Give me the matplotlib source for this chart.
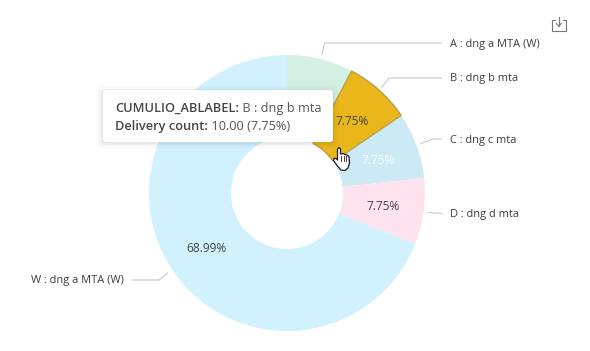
import matplotlib
matplotlib.use('AGG')
import matplotlib.pyplot as plt
from matplotlib.patches import FancyBboxPatch, Polygon

plt.rcParams['font.family'] = ['Open Sans', 'DejaVu Sans']

categories = ['A : dng a MTA (W)', 'B : dng b mta', 'C : dng c mta', 'D : dng d mta', 'W : dng a MTA (W)']
delivery_count = [10, 10, 10, 10, 89]
slice_colors = ['#d3f0e2', '#e9b71a', '#cce9f6', '#fee3ef', '#d1f1ff']
pct_colors = ['#444444', '#444444', '#ffffff', '#444444', '#444444']

# leader lines in pixels, slice end -> elbow -> label end
leaders = [
    [(322, 54), (324.5, 43), (441.5, 43)],
    [(382, 87), (389, 78), (441.5, 78)],
    [(421, 143.5), (433, 139), (441.5, 139)],
    [(428, 212), (433, 213), (441.5, 213.5)],
    [(167.5, 273), (159, 280), (132.5, 280)],
]
label_pos = [(450, 44), (450, 79), (450, 141), (450, 215), (31, 281)]

fig = plt.figure(figsize=(5.9, 3.51), dpi=100)
ax = fig.add_axes([0, 0, 1, 1])

# y axis is flipped below so everything is in image pixels,
# that is why the start angle is -90 and counterclock is True
wedges, _, pcts = ax.pie(delivery_count, colors=slice_colors, center=(287, 193), radius=138,
                         startangle=-90, counterclock=True, autopct='%.2f%%', pctdistance=0.703,
                         wedgeprops={'width': 82, 'linewidth': 0},
                         textprops={'fontsize': 8.6})
ax.set_xlim(0, 590)
ax.set_ylim(351, 0)
ax.set_aspect('auto')

for t, c in zip(pcts, pct_colors):
    t.set_color(c)
    t.set_zorder(4)
    t.set_y(t.get_position()[1] + 1)

# label of slice A sits behind the tooltip in the picture
pcts[0].remove()

wedges[1].set_edgecolor('#b9a046')
wedges[1].set_linewidth(1.0)
wedges[1].set_zorder(3)

for line in leaders:
    xs, ys = zip(*line)
    ax.plot(xs, ys, color='#c9c9c9', lw=0.8, zorder=2)

for name, (x, y) in zip(categories, label_pos):
    ax.text(x, y, name, fontsize=7.9, color='#3c3c3c', va='center', ha='left')

# tooltip, shadow is a few see through boxes
for grow, alpha in [(7, 0.012), (5, 0.02), (3, 0.03), (1.5, 0.04)]:
    ax.add_patch(FancyBboxPatch((103 - grow, 91 - grow + 1), 229 + 2 * grow, 50 + 2 * grow,
                                boxstyle='round,pad=0,rounding_size=4', fc='black', ec='none',
                                alpha=alpha, zorder=5))
ax.add_patch(FancyBboxPatch((103, 90), 230, 52, boxstyle='round,pad=0,rounding_size=3',
                            fc='white', ec='none', zorder=6))

bold1 = ax.text(115, 108.5, 'CUMULIO_ABLABEL:', fontsize=9.2, fontweight='semibold',
                color='#444444', va='center', zorder=7)
ax.annotate(' B : dng b mta', xy=(1, 0.5), xycoords=bold1, va='center', fontsize=9.2,
            color='#555555', zorder=7)
bold2 = ax.text(115, 126.5, 'Delivery count:', fontsize=9.2, fontweight='semibold',
                color='#444444', va='center', zorder=7)
ax.annotate(' 10.00 (7.75%)', xy=(1, 0.5), xycoords=bold2, va='center', fontsize=9.2,
            color='#555555', zorder=7)

# hand cursor
hand = [(337.5, 149), (339, 147.5), (340.5, 149), (340.5, 154), (343, 153.5), (345, 154.5),
        (347, 155), (349, 156.5), (349.5, 163), (348, 168), (345, 170.5), (341, 170),
        (337.5, 166), (333.5, 160.5), (334, 158.5), (336, 158.5), (337.5, 160)]
ax.add_patch(Polygon(hand, closed=True, fc='white', ec='#1c1c2a', lw=0.9, joinstyle='round', zorder=8))
for x0 in [341, 343.5, 346]:
    ax.plot([x0, x0], [155.5, 161], color='#1c1c2a', lw=0.6, zorder=9)

# download icon
ax.plot([554.5, 551.7, 551.7, 565.7, 565.7, 562.5], [20, 20, 30.7, 30.7, 20, 20],
        color='#777777', lw=0.8)
ax.plot([558.7, 558.7], [17, 26], color='#777777', lw=0.8)
ax.plot([556.2, 558.7, 561.2], [23.5, 26, 23.5], color='#777777', lw=0.8)

fig.savefig('out.png', dpi=100)
